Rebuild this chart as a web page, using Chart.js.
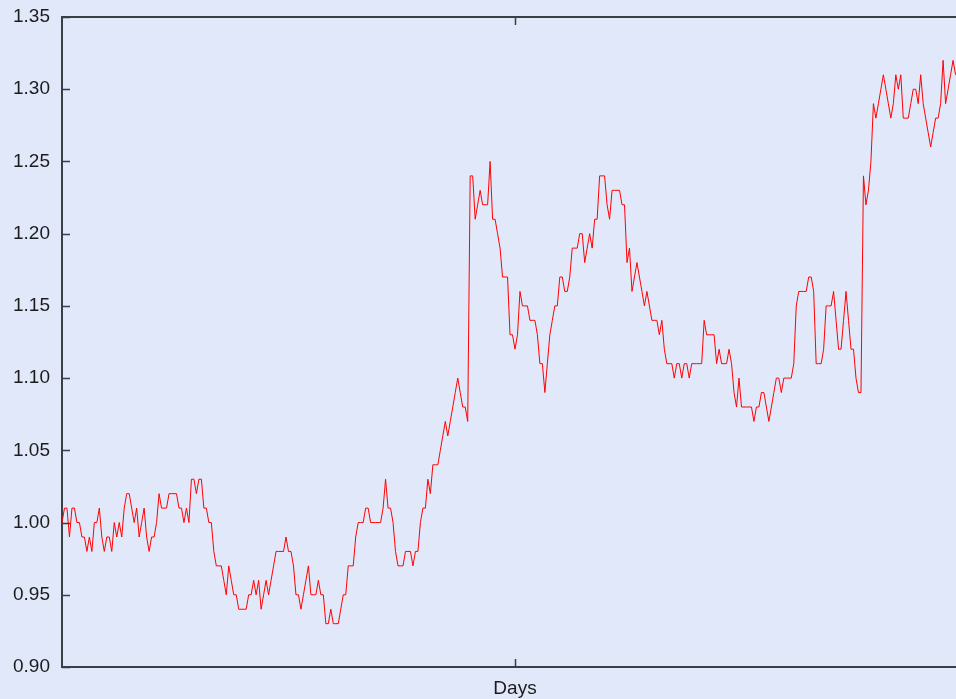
<!DOCTYPE html>
<html>
<head>
<meta charset="utf-8">
<title>Days</title>
<script src="https://cdn.jsdelivr.net/npm/chart.js@4/dist/chart.umd.min.js"></script>
<style>
  html, body { margin: 0; padding: 0; background: #e1e8fa; overflow: hidden; }
  #wrap { width: 968px; height: 699px; }
</style>
</head>
<body>
<div id="wrap"><canvas id="chart" width="968" height="699"></canvas></div>
<script>
// Daily closing values, one per day.
const values = [
  1.00, 1.01, 1.01, 0.99, 1.01, 1.01, 1.00, 1.00, 0.99, 0.99,
  0.98, 0.99, 0.98, 1.00, 1.00, 1.01, 0.99, 0.98, 0.99, 0.99,
  0.98, 1.00, 0.99, 1.00, 0.99, 1.01, 1.02, 1.02, 1.01, 1.00,
  1.01, 0.99, 1.00, 1.01, 0.99, 0.98, 0.99, 0.99, 1.00, 1.02,
  1.01, 1.01, 1.01, 1.02, 1.02, 1.02, 1.02, 1.01, 1.01, 1.00,
  1.01, 1.00, 1.03, 1.03, 1.02, 1.03, 1.03, 1.01, 1.01, 1.00,
  1.00, 0.98, 0.97, 0.97, 0.97, 0.96, 0.95, 0.97, 0.96, 0.95,
  0.95, 0.94, 0.94, 0.94, 0.94, 0.95, 0.95, 0.96, 0.95, 0.96,
  0.94, 0.95, 0.96, 0.95, 0.96, 0.97, 0.98, 0.98, 0.98, 0.98,
  0.99, 0.98, 0.98, 0.97, 0.95, 0.95, 0.94, 0.95, 0.96, 0.97,
  0.95, 0.95, 0.95, 0.96, 0.95, 0.95, 0.93, 0.93, 0.94, 0.93,
  0.93, 0.93, 0.94, 0.95, 0.95, 0.97, 0.97, 0.97, 0.99, 1.00,
  1.00, 1.00, 1.01, 1.01, 1.00, 1.00, 1.00, 1.00, 1.00, 1.01,
  1.03, 1.01, 1.01, 1.00, 0.98, 0.97, 0.97, 0.97, 0.98, 0.98,
  0.98, 0.97, 0.98, 0.98, 1.00, 1.01, 1.01, 1.03, 1.02, 1.04,
  1.04, 1.04, 1.05, 1.06, 1.07, 1.06, 1.07, 1.08, 1.09, 1.10,
  1.09, 1.08, 1.08, 1.07, 1.24, 1.24, 1.21, 1.22, 1.23, 1.22,
  1.22, 1.22, 1.25, 1.21, 1.21, 1.20, 1.19, 1.17, 1.17, 1.17,
  1.13, 1.13, 1.12, 1.13, 1.16, 1.15, 1.15, 1.15, 1.14, 1.14,
  1.14, 1.13, 1.11, 1.11, 1.09, 1.11, 1.13, 1.14, 1.15, 1.15,
  1.17, 1.17, 1.16, 1.16, 1.17, 1.19, 1.19, 1.19, 1.20, 1.20,
  1.18, 1.19, 1.20, 1.19, 1.21, 1.21, 1.24, 1.24, 1.24, 1.22,
  1.21, 1.23, 1.23, 1.23, 1.23, 1.22, 1.22, 1.18, 1.19, 1.16,
  1.17, 1.18, 1.17, 1.16, 1.15, 1.16, 1.15, 1.14, 1.14, 1.14,
  1.13, 1.14, 1.12, 1.11, 1.11, 1.11, 1.10, 1.11, 1.11, 1.10,
  1.11, 1.11, 1.10, 1.11, 1.11, 1.11, 1.11, 1.11, 1.14, 1.13,
  1.13, 1.13, 1.13, 1.11, 1.12, 1.11, 1.11, 1.11, 1.12, 1.11,
  1.09, 1.08, 1.10, 1.08, 1.08, 1.08, 1.08, 1.08, 1.07, 1.08,
  1.08, 1.09, 1.09, 1.08, 1.07, 1.08, 1.09, 1.10, 1.10, 1.09,
  1.10, 1.10, 1.10, 1.10, 1.11, 1.15, 1.16, 1.16, 1.16, 1.16,
  1.17, 1.17, 1.16, 1.11, 1.11, 1.11, 1.12, 1.15, 1.15, 1.15,
  1.16, 1.14, 1.12, 1.12, 1.14, 1.16, 1.14, 1.12, 1.12, 1.10,
  1.09, 1.09, 1.24, 1.22, 1.23, 1.25, 1.29, 1.28, 1.29, 1.30,
  1.31, 1.30, 1.29, 1.28, 1.29, 1.31, 1.30, 1.31, 1.28, 1.28,
  1.28, 1.29, 1.30, 1.30, 1.29, 1.31, 1.29, 1.28, 1.27, 1.26,
  1.27, 1.28, 1.28, 1.29, 1.32, 1.29, 1.30, 1.31, 1.32, 1.31
];

// One category per day of the year.
const dayCount = 365;
const days = Array.from({ length: dayCount }, (_, i) => String(i + 1));

// Value axis labels.
const yTicks = [0.90, 0.95, 1.00, 1.05, 1.10, 1.15, 1.20, 1.25, 1.30, 1.35];
// Single marked day on the time axis (middle of the year).
const xTickDay = 182;

const AXIS_COLOR = '#3a3e46';
const TEXT_COLOR = '#1c1c1c';
const FONT = '"Liberation Sans", Arial, sans-serif';

// Frame on top plus inward-pointing tick marks.
const frameTicks = {
  id: 'frameTicks',
  afterDatasetsDraw(chart) {
    const { ctx, chartArea: a, scales: { x, y } } = chart;
    const len = 8;
    ctx.save();
    ctx.strokeStyle = AXIS_COLOR;
    ctx.lineWidth = 2;
    ctx.beginPath();
    ctx.moveTo(a.left, a.top);
    ctx.lineTo(a.right, a.top);
    ctx.stroke();
    ctx.lineWidth = 1.5;
    ctx.beginPath();
    yTicks.forEach(v => {
      const py = Math.round(y.getPixelForValue(v)) + 0.5;
      ctx.moveTo(a.left, py);
      ctx.lineTo(a.left + len, py);
    });
    const px = Math.round(x.getPixelForValue(xTickDay)) + 0.5;
    ctx.moveTo(px, a.bottom);
    ctx.lineTo(px, a.bottom - len);
    ctx.moveTo(px, a.top);
    ctx.lineTo(px, a.top + len);
    ctx.stroke();
    ctx.restore();
  }
};

new Chart(document.getElementById('chart'), {
  type: 'line',
  data: {
    labels: days,
    datasets: [{
      data: values,
      borderColor: '#ff0000',
      borderWidth: 1,
      pointRadius: 0,
      tension: 0,
      fill: false
    }]
  },
  options: {
    responsive: false,
    animation: false,
    devicePixelRatio: 1,
    layout: { padding: { top: 17, right: 0, bottom: 0, left: 0 } },
    plugins: { legend: { display: false }, tooltip: { enabled: false } },
    scales: {
      x: {
        type: 'category',
        offset: false,
        grid: { display: false, drawTicks: false },
        border: { display: true, color: AXIS_COLOR, width: 2 },
        ticks: { display: false },
        title: {
          display: true,
          text: 'Days',
          color: TEXT_COLOR,
          font: { family: FONT, size: 19, lineHeight: 1.0 },
          padding: { top: 0, bottom: 1 }
        },
        afterFit(scale) { scale.height = 32; }
      },
      y: {
        min: 0.90,
        max: 1.35,
        grid: { display: false, drawTicks: false },
        border: { display: true, color: AXIS_COLOR, width: 2 },
        afterBuildTicks(scale) { scale.ticks = yTicks.map(v => ({ value: v })); },
        ticks: {
          padding: 12,
          color: TEXT_COLOR,
          font: { family: FONT, size: 19 },
          callback: v => Number(v).toFixed(2)
        },
        afterFit(scale) {
          scale.width = 62;
          scale.paddingTop = 0;
          scale.paddingBottom = 0;
        }
      }
    }
  },
  plugins: [frameTicks]
});
</script>
</body>
</html>
